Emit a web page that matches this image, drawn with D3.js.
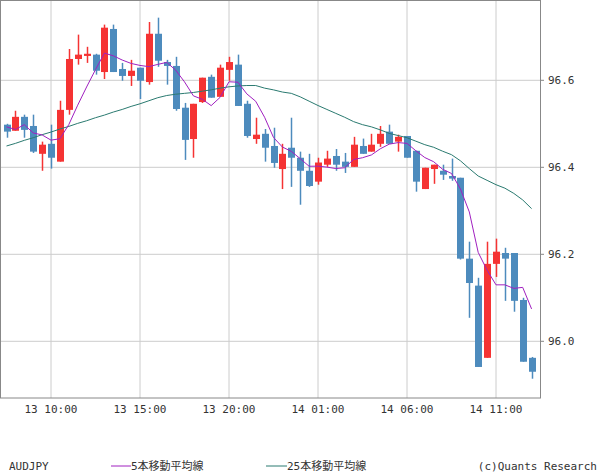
<!DOCTYPE html>
<html><head><meta charset="utf-8">
<script src="https://cdn.jsdelivr.net/npm/d3@7"></script>
<style>body{margin:0;background:#fff}text{font-family:"DejaVu Sans Mono","Noto Sans CJK JP",monospace;font-size:11px;fill:#333}</style>
</head><body><svg id="c" width="600" height="475"></svg>
<script>
const opens =[96.498,96.484,96.516,96.495,96.431,96.454,96.413,96.532,96.649,96.656,96.659,96.619,96.718,96.626,96.610,96.629,96.596,96.707,96.642,96.633,96.537,96.465,96.550,96.608,96.562,96.624,96.636,96.546,96.465,96.477,96.449,96.396,96.445,96.422,96.392,96.367,96.406,96.426,96.413,96.401,96.449,96.436,96.454,96.482,96.459,96.472,96.438,96.350,96.396,96.392,96.380,96.376,96.190,96.128,95.962,96.178,96.203,96.203,96.095,95.962];
const highs =[96.500,96.530,96.521,96.521,96.459,96.498,96.553,96.672,96.705,96.677,96.661,96.728,96.728,96.640,96.647,96.629,96.734,96.744,96.647,96.654,96.548,96.546,96.606,96.613,96.636,96.654,96.659,96.553,96.514,96.488,96.491,96.454,96.514,96.436,96.431,96.422,96.438,96.442,96.433,96.470,96.466,96.477,96.495,96.498,96.475,96.472,96.438,96.399,96.406,96.406,96.420,96.376,96.229,96.146,96.229,96.236,96.215,96.203,96.100,95.964];
const lows  =[96.468,96.484,96.468,96.433,96.392,96.397,96.413,96.521,96.636,96.640,96.613,96.603,96.619,96.599,96.587,96.557,96.590,96.631,96.590,96.530,96.417,96.422,96.548,96.560,96.562,96.599,96.541,96.468,96.454,96.413,96.399,96.350,96.355,96.314,96.355,96.360,96.401,96.392,96.387,96.401,96.431,96.436,96.447,96.454,96.436,96.422,96.344,96.350,96.362,96.371,96.369,96.188,96.054,95.941,95.962,96.148,96.093,96.068,95.953,95.914];
const closes=[96.482,96.516,96.486,96.436,96.452,96.422,96.532,96.649,96.659,96.661,96.622,96.721,96.619,96.610,96.622,96.599,96.707,96.645,96.633,96.534,96.463,96.546,96.606,96.560,96.629,96.642,96.541,96.472,96.475,96.445,96.410,96.431,96.422,96.392,96.357,96.411,96.420,96.406,96.401,96.452,96.431,96.452,96.477,96.454,96.470,96.422,96.367,96.399,96.406,96.383,96.374,96.190,96.134,95.941,96.178,96.206,96.190,96.093,95.953,95.930];
const ma5Start=[96.493,96.487,96.498,96.479];
const ma25=[96.449,96.455,96.462,96.468,96.475,96.481,96.488,96.494,96.501,96.507,96.514,96.520,96.527,96.533,96.540,96.546,96.553,96.560,96.565,96.568,96.570,96.572,96.575,96.578,96.582,96.585,96.587,96.588,96.588,96.582,96.578,96.573,96.570,96.562,96.552,96.542,96.533,96.524,96.515,96.505,96.498,96.493,96.486,96.478,96.473,96.468,96.460,96.452,96.446,96.437,96.429,96.415,96.397,96.380,96.370,96.360,96.352,96.340,96.325,96.305];
const yTicks=[96.0,96.2,96.4,96.6];
const xTickIdx=[5,15,25,35,45,55];
const xTickLabels=["13 10:00","13 15:00","13 20:00","14 01:00","14 06:00","14 11:00"];
const legend=["AUDJPY","5本移動平均線","25本移動平均線","(c)Quants Research"];

const ma5=closes.map((c,i)=>i<4?ma5Start[i]:d3.mean(closes.slice(i-4,i+1)));
const svg=d3.select("#c");
const W=540,H=398;
const x=d3.scaleLinear().domain([0,59]).range([6.5,531.6]);
const y=d3.scaleLinear().domain([96.0,96.6]).range([341.3,80.3]);
const g=svg.append("g");
g.selectAll(".gy").data(yTicks).join("line").attr("x1",0).attr("x2",W).attr("y1",d=>y(d)).attr("y2",d=>y(d)).attr("stroke","#ccc");
g.selectAll(".gx").data(xTickIdx).join("line").attr("x1",d=>x(d)).attr("x2",d=>x(d)).attr("y1",0).attr("y2",H).attr("stroke","#ccc");
g.append("rect").attr("x",0.5).attr("y",0.5).attr("width",W).attr("height",H-0.5).attr("fill","none").attr("stroke","#888");
g.selectAll(".ty").data(yTicks).join("line").attr("x1",W).attr("x2",W+4).attr("y1",d=>y(d)).attr("y2",d=>y(d)).attr("stroke","#888");
g.selectAll(".ly").data(yTicks).join("text").attr("x",W+8).attr("y",d=>y(d)+4).text(d=>d.toFixed(1));
g.selectAll(".lx").data(xTickIdx).join("text").attr("x",d=>x(d)).attr("y",413).attr("text-anchor","middle").text((d,i)=>xTickLabels[i]);
const idx=d3.range(closes.length);
const col=i=>closes[i]>=opens[i]?"#f53333":"#4d8bbd";
g.selectAll(".wk").data(idx).join("line").attr("x1",i=>Math.round(x(i))+0.5).attr("x2",i=>Math.round(x(i))+0.5).attr("y1",i=>y(highs[i])).attr("y2",i=>y(lows[i])).attr("stroke",col).attr("stroke-width",1.5);
g.selectAll(".bd").data(idx).join("rect").attr("x",i=>Math.round(x(i))-3).attr("width",7).attr("y",i=>y(Math.max(opens[i],closes[i]))).attr("height",i=>Math.max(1.5,Math.abs(y(opens[i])-y(closes[i])))).attr("fill",col);
const line=d3.line().x((d,i)=>x(i)).y(d=>y(d));
g.append("path").attr("d",line(ma25)).attr("fill","none").attr("stroke","#2a7a70").attr("stroke-width",1);
g.append("path").attr("d",line(ma5)).attr("fill","none").attr("stroke","#a020c0").attr("stroke-width",1);
svg.append("text").attr("x",9).attr("y",470).text(legend[0]);
svg.append("line").attr("x1",111).attr("x2",131).attr("y1",466).attr("y2",466).attr("stroke","#a020c0");
svg.append("text").attr("x",131).attr("y",470).text(legend[1]);
svg.append("line").attr("x1",266).attr("x2",287).attr("y1",466).attr("y2",466).attr("stroke","#2a7a70");
svg.append("text").attr("x",287).attr("y",470).text(legend[2]);
svg.append("text").attr("x",597).attr("y",470).attr("text-anchor","end").text(legend[3]);
</script></body></html>
